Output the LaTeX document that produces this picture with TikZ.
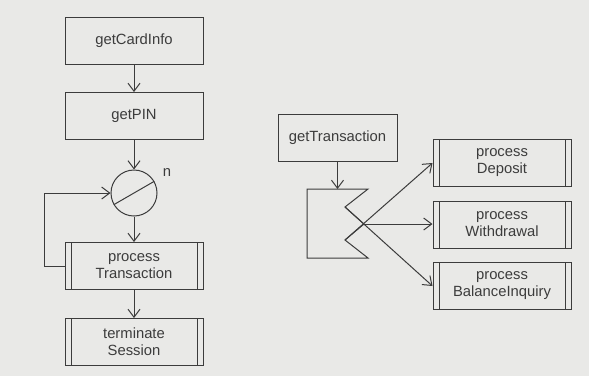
\documentclass[tikz,border=0pt]{standalone}
\usepackage{fontspec}
\setmainfont{Liberation Sans}
\usetikzlibrary{arrows.meta}
\definecolor{paper}{RGB}{233,233,231}
\definecolor{ink}{RGB}{60,60,60}
\tikzset{
  lbl/.style={font=\fontsize{14.8}{17}\selectfont, text=ink},
  box/.style={lbl, draw=ink, line width=1pt, rectangle, minimum width=138pt,
    minimum height=47pt, inner sep=0pt, align=center},
  subbox/.style={box, path picture={
      \draw[ink, line width=1pt]
        ([xshift=6pt]path picture bounding box.north west) -- ([xshift=6pt]path picture bounding box.south west)
        ([xshift=-6pt]path picture bounding box.north east) -- ([xshift=-6pt]path picture bounding box.south east);}},
  arr/.style={draw=ink, line width=1pt, -{Straight Barb[length=8pt,width=12pt,line width=1pt]}},
  ln/.style={draw=ink, line width=1pt},
}
\begin{document}
\begin{tikzpicture}[x=1pt,y=-1pt]
  \fill[paper] (0,0) rectangle (589,376);
  \useasboundingbox (0,0) rectangle (589,376);

  % left column: session sequence
  \node[box] (card) at (134,40.5) {getCardInfo};
  \node[box] (pin) at (134,116) {getPIN};
  \node[draw=ink, line width=1pt, circle, minimum size=46pt, inner sep=0pt] (loop) at (134,193) {};
  \draw[ln] (loop.210) -- (loop.30);
  \node[lbl, anchor=center] (n) at (167,173) {n};
  \node[subbox] (proc) at (134,266) {process\\Transaction};
  \node[subbox] (term) at (134,342) {terminate\\Session};

  \draw[arr] (card) -- (pin);
  \draw[arr] (pin) -- (loop);
  \draw[arr] (loop) -- (proc);
  \draw[arr] (proc) -- (term);
  \draw[arr] (proc.west) -- ++(-20,0) |- (loop.west);

  % right part: transaction selection
  \node[box, minimum width=119pt] (gett) at (337.5,137.5) {getTransaction};
  \node[subbox] (dep) at (502,163) {process\\Deposit};
  \node[subbox] (wdr) at (502,224.5) {process\\Withdrawal};
  \node[subbox] (bal) at (502,286) {process\\BalanceInquiry};

  \coordinate (sTL) at (307,189);
  \coordinate (sTR) at (368,189);
  \coordinate (nA) at (345,207);
  \coordinate (sX) at (364,224);
  \coordinate (nB) at (345,240);
  \coordinate (sBR) at (368,258);
  \coordinate (sBL) at (307,258);
  \coordinate (sIn) at (337.5,189);

  \draw[ln, line join=miter] (sX) -- (nA) -- (sTR) -- (sTL) -- (sBL) -- (sBR) -- (nB) -- (sX);
  \draw[arr] (gett.south -| sIn) -- (sIn);
  \draw[arr] (nB) -- (dep.west);
  \draw[arr] (sX) -- (sX -| wdr.west);
  \draw[arr] (nA) -- (bal.west);
\end{tikzpicture}
\end{document}
